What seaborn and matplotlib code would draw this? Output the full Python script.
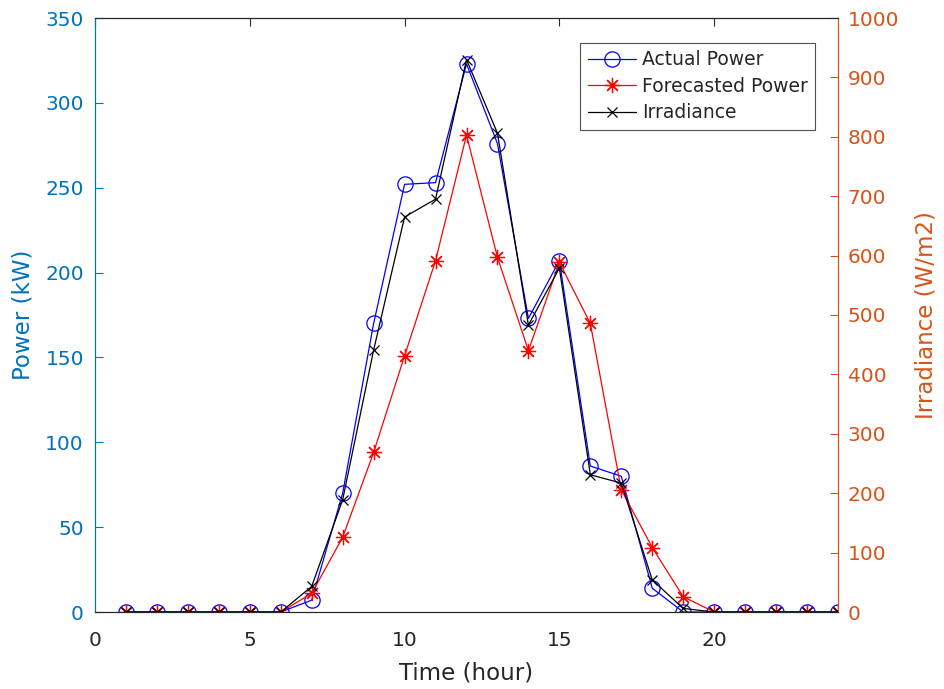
import numpy as np
import pandas as pd
import matplotlib
matplotlib.use("Agg")
import matplotlib.pyplot as plt
import seaborn as sns

hours = list(range(1, 25))
actual_power = [0, 0, 0, 0, 0, 0, 7, 70, 170, 252, 253, 323, 276, 173, 207, 86, 80, 14, 0, 0, 0, 0, 0, 0]
forecast_power = [0, 0, 0, 0, 0, 0, 11, 44, 94, 151, 207, 281, 209, 154, 206, 170, 72, 38, 9, 0, 0, 0, 0, 0]
irradiance = [0, 0, 0, 0, 0, 0, 43, 189, 441, 665, 695, 930, 806, 483, 579, 231, 217, 54, 6, 0, 0, 0, 0, 0]

left_ticks = [0, 50, 100, 150, 200, 250, 300, 350]
right_ticks = [0, 100, 200, 300, 400, 500, 600, 700, 800, 900, 1000]
x_ticks = [0, 5, 10, 15, 20]

df = pd.DataFrame({"hour": hours, "actual": actual_power,
                   "forecast": forecast_power, "irr": irradiance})

sns.set_style("white")
plt.rcParams["font.family"] = ["DejaVu Sans"]

LEFT_C = "#0072BD"
RIGHT_C = "#D95319"
DARK = "#262626"
ASTER = (8, 2, 0)

fig = plt.figure(figsize=(9.44, 6.89), dpi=100)
ax = fig.add_axes([95/944, 1-612/689, (838-95)/944, (612-18)/689])
ax2 = ax.twinx()

sns.lineplot(data=df, x="hour", y="actual", ax=ax, color="#0000FF", lw=0.9,
             marker="o", markersize=11, markerfacecolor="none",
             markeredgecolor="#0000FF", markeredgewidth=0.9, label="Actual Power",
             legend=False)
sns.lineplot(data=df, x="hour", y="forecast", ax=ax, color="#FF0000", lw=0.9,
             marker=ASTER, markersize=11, markerfacecolor="none",
             markeredgecolor="#FF0000", markeredgewidth=0.9, label="Forecasted Power",
             legend=False)
sns.lineplot(data=df, x="hour", y="irr", ax=ax2, color="black", lw=0.9,
             marker="x", markersize=7.5, markeredgecolor="black",
             markeredgewidth=0.9, label="Irradiance", legend=False)

ax.set_xlim(0, 24)
ax.set_ylim(0, 350)
ax2.set_ylim(0, 1000)
ax.set_xticks(x_ticks)
ax.set_yticks(left_ticks)
ax2.set_yticks(right_ticks)

ax.tick_params(axis="y", colors=LEFT_C, labelsize=14.5, direction="in", length=6,
               right=False, pad=8)
ax.tick_params(axis="x", colors=DARK, labelsize=14.5, direction="in", length=6,
               top=True, pad=14)
ax2.tick_params(axis="y", colors=RIGHT_C, labelsize=14.5, direction="in", length=6, pad=7)
for lab in ax.get_yticklabels():
    lab.set_color(LEFT_C)
for lab in ax2.get_yticklabels():
    lab.set_color(RIGHT_C)
for lab in ax.get_xticklabels():
    lab.set_color(DARK)

ax.set_xlabel("Time (hour)", fontsize=16.5, color=DARK, labelpad=8)
ax.set_ylabel("Power (kW)", fontsize=16.5, color=LEFT_C, labelpad=8)
ax2.set_ylabel("Irradiance (W/m2)", fontsize=16.5, color=RIGHT_C, labelpad=11)

for a in (ax, ax2):
    a.spines["top"].set_color(DARK)
    a.spines["bottom"].set_color(DARK)
    a.spines["left"].set_color(LEFT_C)
    a.spines["right"].set_color(RIGHT_C)
    for s in a.spines.values():
        s.set_linewidth(0.8)

h1, l1 = ax.get_legend_handles_labels()
h2, l2 = ax2.get_legend_handles_labels()
leg = ax2.legend(h1 + h2, l1 + l2, loc="upper right", bbox_to_anchor=(0.9695, 0.958),
                 fontsize=13.5, frameon=True, fancybox=False, edgecolor=DARK,
                 handlelength=2.6, borderpad=0.4, labelspacing=0.4, handletextpad=0.3,
                 borderaxespad=0)
leg.get_frame().set_linewidth(0.8)

fig.savefig("out.png", dpi=100)
